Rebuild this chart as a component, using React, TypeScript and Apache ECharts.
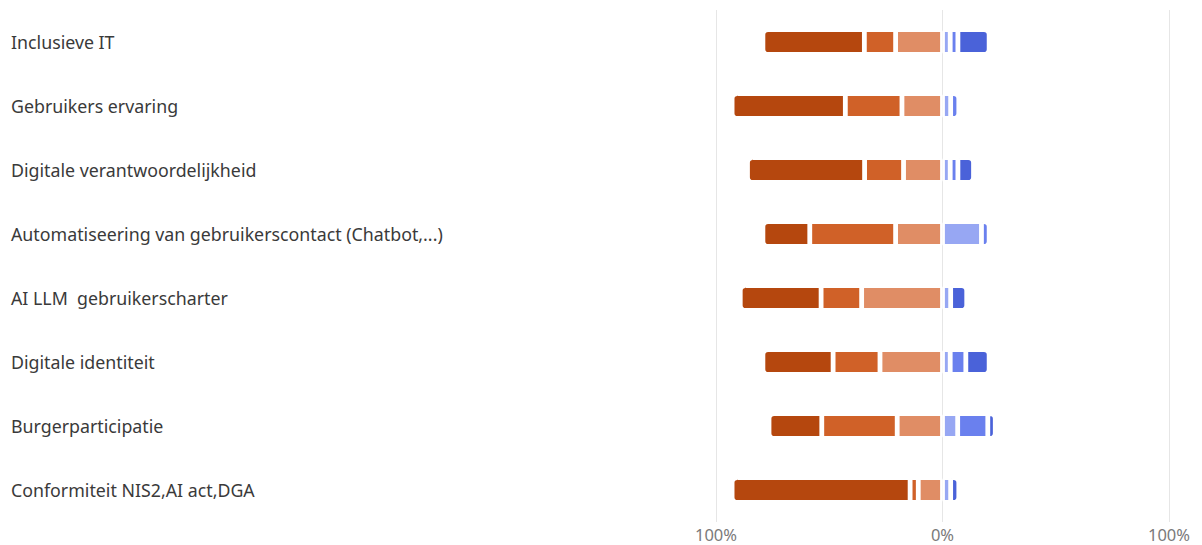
import React, { useEffect, useRef } from "react";
import * as echarts from "echarts";

const categories = [
  "Inclusieve IT",
  "Gebruikers ervaring",
  "Digitale verantwoordelijkheid",
  "Automatiseering van gebruikerscontact (Chatbot,...)",
  "AI LLM  gebruikerscharter",
  "Digitale identiteit",
  "Burgerparticipatie",
  "Conformiteit NIS2,AI act,DGA",
];

// percentages (negative side)
const darkOrange = [44.8, 50.0, 51.7, 20.7, 35.7, 31.0, 23.3, 78.6];
const midOrange = [13.8, 25.0, 17.2, 37.9, 17.9, 20.7, 33.3, 3.6];
const lightOrange = [20.7, 17.9, 17.2, 20.7, 35.7, 27.6, 20.0, 10.7];
// percentages (positive side)
const lightBlue = [3.4, 3.6, 3.4, 17.2, 3.6, 3.4, 6.7, 3.6];
const midBlue = [3.4, 3.6, 3.4, 3.4, 0, 6.9, 13.3, 0];
const darkBlue = [13.8, 0, 6.9, 0, 7.1, 10.3, 3.3, 3.6];

const xTicks = [-100, 0, 100];

const C = {
  darkOrange: "#b5470e",
  midOrange: "#d06128",
  lightOrange: "#e08d65",
  lightBlue: "#97a7f3",
  midBlue: "#6a80ee",
  darkBlue: "#4a62d9",
};

const R = 4;
const BW = 2.4;

export default function App() {
  const ref = useRef<HTMLDivElement>(null);
  useEffect(() => {
    if (!ref.current) return;
    const chart = echarts.init(ref.current, null, { renderer: "svg" });
    const rightSeries = [lightBlue, midBlue, darkBlue];
    const outerRight = categories.map((_, i) => {
      let k = -1;
      rightSeries.forEach((s, j) => {
        if (s[i] > 0) k = j;
      });
      return k;
    });
    const common = {
      type: "bar" as const,
      stack: "total",
      barWidth: 25,
      emphasis: { disabled: true },
    };
    const leftSer = (name: string, vals: number[], color: string, outer: boolean) => ({
      ...common,
      name,
      data: vals.map((v) => ({
        value: -v,
        itemStyle: {
          color,
          borderColor: "#ffffff",
          borderWidth: BW,
          borderRadius: outer ? [R, 0, 0, R] : 1,
        },
      })),
    });
    const rightSer = (name: string, vals: number[], color: string, j: number) => ({
      ...common,
      name,
      data: vals.map((v, i) => ({
        value: v,
        itemStyle: {
          color,
          borderColor: "#ffffff",
          borderWidth: BW,
          borderRadius: outerRight[i] === j ? [0, R, R, 0] : 1,
        },
      })),
    });
    chart.setOption({
      animation: false,
      grid: { left: 716, right: 33, top: 10, height: 512, containLabel: false },
      xAxis: {
        type: "value",
        min: xTicks[0],
        max: xTicks[xTicks.length - 1],
        interval: 100,
        axisLine: { show: false },
        axisTick: { show: false },
        splitLine: { show: true, lineStyle: { color: "#e6e6e6", width: 1 } },
        axisLabel: {
          formatter: (v: number) => Math.abs(v) + "%",
          color: "#7a7a7a",
          fontSize: 16.5,
          fontFamily: "Noto Sans",
          margin: 4,
        },
      },
      yAxis: {
        type: "category",
        data: categories,
        inverse: true,
        axisLine: { show: false },
        axisTick: { show: false },
        splitLine: { show: false },
        axisLabel: {
          align: "left",
          margin: 705,
          color: "#3a3a3a",
          fontSize: 17.8,
          fontFamily: "Noto Sans",
        },
      },
      series: [
        leftSer("lightOrange", lightOrange, C.lightOrange, false),
        leftSer("midOrange", midOrange, C.midOrange, false),
        leftSer("darkOrange", darkOrange, C.darkOrange, true),
        rightSer("lightBlue", lightBlue, C.lightBlue, 0),
        rightSer("midBlue", midBlue, C.midBlue, 1),
        rightSer("darkBlue", darkBlue, C.darkBlue, 2),
      ],
    });
    return () => chart.dispose();
  }, []);
  return <div ref={ref} style={{ width: 1202, height: 545, position: "absolute", left: 0, top: 0 }} />;
}
